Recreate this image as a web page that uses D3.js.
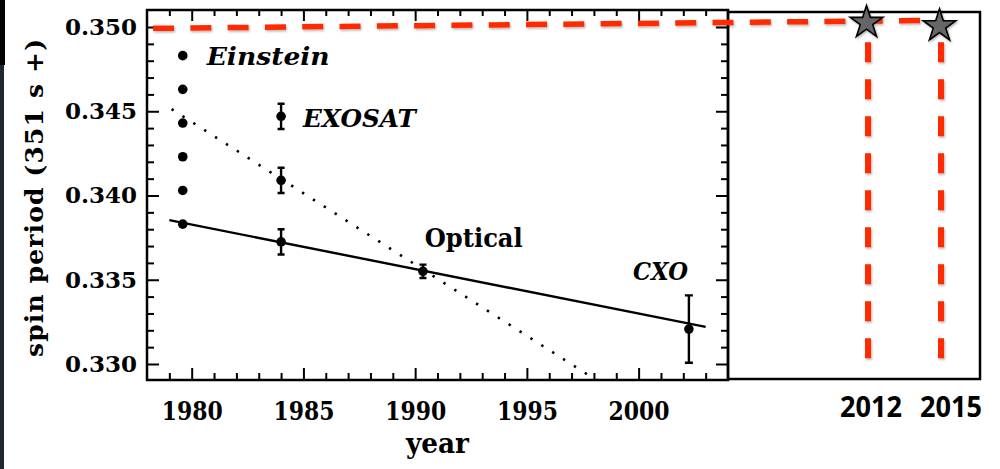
<!DOCTYPE html>
<html><head><meta charset="utf-8">
<script src="https://cdn.jsdelivr.net/npm/d3@7"></script>
<style>html,body{margin:0;padding:0;background:#fff}svg{display:block}</style>
</head><body><svg id="c" width="1000" height="469"></svg>
<script>
// ---- data ----
const einsteinYear = [1979.6, 1979.6, 1979.6, 1979.6, 1979.6, 1979.6];
const einsteinPeriod = [0.3483, 0.3463, 0.3443, 0.3423, 0.3403, 0.3383];
const exosatYear = [1984.0, 1984.0, 1984.0];
const exosatPeriod = [0.3447, 0.3409, 0.33725];
const exosatErr = [0.00075, 0.00075, 0.00075];
const opticalYear = [1990.35];
const opticalPeriod = [0.3355];
const opticalErr = [0.0004];
const cxoYear = [2002.25];
const cxoPeriod = [0.33207];
const cxoErr = [0.0020];
const fitSolidYear = [1979.0, 2003.0];
const fitSolidPeriod = [0.33854, 0.33220];
const fitDottedYear = [1979.1, 1998.1];
const fitDottedPeriod = [0.34513, 0.32905];
const yTickValues = [0.330, 0.335, 0.340, 0.345, 0.350];
const xTickValues = [1980, 1985, 1990, 1995, 2000];
const futureYears = [2012, 2015];
const futureLabels = ["2012", "2015"];
const futurePeriod = [0.35026, 0.35006];
const projYear = [1978.27, 2015];
const projPeriod = [0.34992, 0.3504];
const dropPeriod = [0.3491, 0.3302];
const seriesLabels = ["Einstein", "EXOSAT", "Optical", "CXO"];
const seriesLabelYear = [1980.67, 1984.98, 1990.43, 1999.75];
const seriesLabelPeriod = [0.34774, 0.34408, 0.33695, 0.33498];

// ---- layout ----
const W = 1000, H = 469;
const L = 147, R = 728, T = 10, B = 380, EXT_R = 980;
const RED = "#ff2a00";

const svg = d3.select("#c");
const x = d3.scaleLinear().domain([1978, 2004]).range([L, R]);
const xExt = d3.scaleLinear().domain([1978, 2004, 2012, 2015]).range([L, R, 868, 941]);
const y = d3.scaleLinear().domain([0.32905, 0.35101]).range([B, T]);

const defs = svg.append("defs");
defs.append("clipPath").attr("id", "plotclip").append("rect")
  .attr("x", L).attr("y", T).attr("width", R - L).attr("height", B - T);
const f = defs.append("filter").attr("id", "shadow").attr("x", "-20%").attr("y", "-20%").attr("width", "140%").attr("height", "140%");
f.append("feDropShadow").attr("dx", 1).attr("dy", 1.5).attr("stdDeviation", 1)
  .attr("flood-color", "#000").attr("flood-opacity", 0.3);

// left dark strip (screenshot edge)
svg.append("rect").attr("x", 0).attr("y", 0).attr("width", 5).attr("height", 65).attr("fill", "#000");
svg.append("rect").attr("x", 0).attr("y", 65).attr("width", 4).attr("height", H - 65).attr("fill", "#1d2830");

// ---- axes ----
const tickFont = g => g.selectAll("text")
  .attr("font-family", "DejaVu Serif").attr("font-weight", "bold").attr("fill", "#000");
const styleTicks = g => { g.select(".domain").remove(); g.selectAll("line").attr("stroke", "#000").attr("stroke-width", 2); };

const yMinor = y.ticks(20).filter(v => !yTickValues.some(t => Math.abs(t - v) < 1e-9) && v > 0.3291 && v < 0.351);
const xMinor = x.ticks(26).filter(v => !xTickValues.includes(v) && v > 1978 && v < 2004);

svg.append("g").attr("transform", `translate(${L},0)`)
  .call(d3.axisLeft(y).tickValues(yTickValues).tickFormat(d3.format(".3f")).tickSize(-12).tickPadding(10))
  .call(styleTicks).attr("font-size", 23).call(tickFont);
svg.append("g").attr("transform", `translate(${L},0)`)
  .call(d3.axisLeft(y).tickValues(yMinor).tickFormat("").tickSize(-7)).call(styleTicks);
svg.append("g").attr("transform", `translate(${R},0)`)
  .call(d3.axisRight(y).tickValues(yTickValues).tickFormat("").tickSize(-12)).call(styleTicks);
svg.append("g").attr("transform", `translate(${R},0)`)
  .call(d3.axisRight(y).tickValues(yMinor).tickFormat("").tickSize(-7)).call(styleTicks);

const xAx = svg.append("g").attr("transform", `translate(0,${B})`)
  .call(d3.axisBottom(x).tickValues(xTickValues).tickFormat(d3.format("d")).tickSize(-12).tickPadding(22))
  .call(styleTicks).attr("font-size", 26).call(tickFont);
xAx.selectAll("text").attr("textLength", 61).attr("lengthAdjust", "spacingAndGlyphs");
svg.append("g").attr("transform", `translate(0,${B})`)
  .call(d3.axisBottom(x).tickValues(xMinor).tickFormat("").tickSize(-7)).call(styleTicks);
svg.append("g").attr("transform", `translate(0,${T})`)
  .call(d3.axisTop(x).tickValues(xTickValues).tickFormat("").tickSize(-11)).call(styleTicks);
svg.append("g").attr("transform", `translate(0,${T})`)
  .call(d3.axisTop(x).tickValues(xMinor).tickFormat("").tickSize(-6)).call(styleTicks);

// frame of the original plot
svg.append("rect").attr("x", L).attr("y", T).attr("width", R - L).attr("height", B - T)
  .attr("fill", "none").attr("stroke", "#000").attr("stroke-width", 2.5);
// extension rectangle
svg.append("rect").attr("x", R).attr("y", T + 2).attr("width", EXT_R - R).attr("height", B - T - 3)
  .attr("fill", "none").attr("stroke", "#000").attr("stroke-width", 2.5);

// axis titles
svg.append("text").attr("x", (L + R) / 2).attr("y", 453).attr("text-anchor", "middle")
  .attr("font-family", "DejaVu Serif").attr("font-weight", "bold").attr("font-size", 27)
  .attr("textLength", 63).attr("lengthAdjust", "spacingAndGlyphs").text("year");
svg.append("text").attr("transform", `translate(43,${(T + B) / 2 + 3}) rotate(-90)`).attr("text-anchor", "middle")
  .attr("font-family", "DejaVu Serif").attr("font-weight", "bold").attr("font-size", 25)
  .attr("textLength", 318).attr("lengthAdjust", "spacing").text("spin period (351 s +)");

// ---- fit lines ----
const plot = svg.append("g").attr("clip-path", "url(#plotclip)");
const line = d3.line().x(d => x(d[0])).y(d => y(d[1]));
plot.append("path").attr("d", line(fitDottedYear.map((v, i) => [v, fitDottedPeriod[i]])))
  .attr("fill", "none").attr("stroke", "#000").attr("stroke-width", 2.6).attr("stroke-dasharray", "2.4 10.5");
plot.append("path").attr("d", line(fitSolidYear.map((v, i) => [v, fitSolidPeriod[i]])))
  .attr("fill", "none").attr("stroke", "#000").attr("stroke-width", 2.4);

// ---- points & error bars ----
function errSeries(years, periods, errs, cap) {
  const data = years.map((v, i) => ({ t: v, p: periods[i], e: errs ? errs[i] : 0 }));
  const g = svg.append("g");
  if (errs) {
    g.selectAll(".eb").data(data).join("path")
      .attr("d", d => `M${x(d.t)},${y(d.p + d.e)}V${y(d.p - d.e)}M${x(d.t) - cap},${y(d.p + d.e)}h${2 * cap}M${x(d.t) - cap},${y(d.p - d.e)}h${2 * cap}`)
      .attr("stroke", "#000").attr("stroke-width", 2.4).attr("fill", "none");
  }
  g.selectAll("circle").data(data).join("circle")
    .attr("cx", d => x(d.t)).attr("cy", d => y(d.p)).attr("r", 4.8).attr("fill", "#000");
}
errSeries(einsteinYear, einsteinPeriod, null, 0);
errSeries(exosatYear, exosatPeriod, exosatErr, 3.5);
errSeries(opticalYear, opticalPeriod, opticalErr, 3.5);
errSeries(cxoYear, cxoPeriod, cxoErr, 4);

// ---- series labels ----
const labelStyle = [
  { italic: true, size: 24, len: 123 },
  { italic: true, size: 25, len: 113 },
  { italic: false, size: 26, len: 98 },
  { italic: true, size: 25, len: 55 }
];
seriesLabels.forEach((s, i) => {
  svg.append("text").attr("x", x(seriesLabelYear[i])).attr("y", y(seriesLabelPeriod[i]))
    .attr("font-family", "DejaVu Serif").attr("font-weight", "bold")
    .attr("font-style", labelStyle[i].italic ? "italic" : "normal")
    .attr("font-size", labelStyle[i].size)
    .attr("textLength", labelStyle[i].len).attr("lengthAdjust", "spacingAndGlyphs")
    .text(s);
});

// ---- red projection overlay ----
const red = svg.append("g").attr("filter", "url(#shadow)");
red.append("path")
  .attr("d", d3.line().x(d => xExt(d[0])).y(d => y(d[1]))(projYear.map((v, i) => [v, projPeriod[i]])))
  .attr("fill", "none").attr("stroke", RED).attr("stroke-width", 5.5).attr("stroke-dasharray", "21 16.3");
red.selectAll(".drop").data(futureYears).join("line")
  .attr("x1", d => xExt(d)).attr("x2", d => xExt(d))
  .attr("y1", y(dropPeriod[0])).attr("y2", y(dropPeriod[1]))
  .attr("stroke", RED).attr("stroke-width", 6).attr("stroke-dasharray", "20 17");

const star = d3.symbol().type(d3.symbolStar).size(330);
red.selectAll(".star").data(futureYears).join("path")
  .attr("transform", (d, i) => `translate(${xExt(d) - 1.5},${y(futurePeriod[i])})`)
  .attr("d", star).attr("fill", "#666").attr("stroke", "#000").attr("stroke-width", 1.6);

svg.selectAll(".flab").data(futureLabels).join("text")
  .attr("x", (d, i) => xExt(futureYears[i]) + (i ? 10 : 3)).attr("y", 417)
  .attr("text-anchor", "middle").attr("font-family", "Open Sans").attr("font-weight", "bold")
  .attr("font-size", 28).attr("textLength", 62).attr("lengthAdjust", "spacingAndGlyphs")
  .text(d => d);
</script></body></html>
